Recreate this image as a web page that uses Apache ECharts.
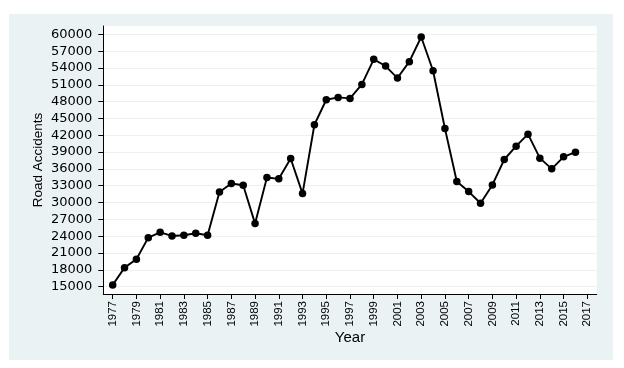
<!DOCTYPE html>
<html>
<head>
<meta charset="utf-8">
<script src="https://cdn.jsdelivr.net/npm/echarts@6/dist/echarts.min.js"></script>
<style>html,body{margin:0;padding:0;background:#fff}#c{width:624px;height:368px}</style>
</head>
<body>
<div id="c"></div>
<script>
var years = [1977,1978,1979,1980,1981,1982,1983,1984,1985,1986,1987,1988,1989,1990,1991,1992,1993,1994,1995,1996,1997,1998,1999,2000,2001,2002,2003,2004,2005,2006,2007,2008,2009,2010,2011,2012,2013,2014,2015,2016];
var accidents = [15300,18400,19900,23750,24700,24050,24170,24520,24170,31900,33390,33100,26250,34460,34230,37860,31600,43870,48330,48750,48570,51070,55540,54340,52200,55120,59520,53510,43210,33750,31960,29880,33150,37680,40060,42200,37920,36010,38150,38990];
var xTickYears = [1977,1979,1981,1983,1985,1987,1989,1991,1993,1995,1997,1999,2001,2003,2005,2007,2009,2011,2013,2015,2017];
var yTickValues = [15000,18000,21000,24000,27000,30000,33000,36000,39000,42000,45000,48000,51000,54000,57000,60000];

var chart = echarts.init(document.getElementById('c'), null, {renderer:'canvas'});
var pts = years.map(function(y,i){return [y, accidents[i]];});
chart.setOption({
  animation: false,
  backgroundColor: '#ffffff',
  graphic: [{
    type: 'rect', z: -10, silent: true,
    shape: {x: 9, y: 14, width: 604, height: 346},
    style: {fill: '#EAF2F3'}
  }],
  grid: {left: 103.3, top: 26, right: 27.3, bottom: 74, show: true, backgroundColor: '#ffffff', borderWidth: 0},
  xAxis: {
    type: 'value', min: 1976.21, max: 2017.79,
    name: 'Year', nameLocation: 'middle', nameGap: 36, nameMoveOverlap: false,
    nameTextStyle: {fontFamily: 'Liberation Sans', fontSize: 15, color: '#000'},
    axisLine: {show: true, lineStyle: {color: '#000', width: 1}},
    axisTick: {show: true, length: 5, customValues: xTickYears, lineStyle: {color: '#000'}},
    axisLabel: {customValues: xTickYears, rotate: 90, margin: 7, fontFamily: 'Liberation Sans', fontSize: 11.5, color: '#000', formatter: function(v){return String(v);}},
    splitLine: {show: false}
  },
  yAxis: {
    type: 'value', min: 13700, max: 61480,
    name: 'Road Accidents', nameLocation: 'middle', nameGap: 58, nameMoveOverlap: false,
    nameTextStyle: {fontFamily: 'Liberation Sans', fontSize: 13.5, color: '#000'},
    axisLine: {show: true, lineStyle: {color: '#000', width: 1}},
    axisTick: {show: true, length: 5, customValues: yTickValues, lineStyle: {color: '#000'}},
    axisLabel: {customValues: yTickValues, margin: 11, fontFamily: 'DejaVu Sans', fontSize: 13, color: '#000', formatter: function(v){return String(v);}},
    splitLine: {show: true, lineStyle: {color: '#EAF2F3', width: 1}}
  },
  series: [{
    type: 'line', data: pts,
    symbol: 'circle', symbolSize: 7.5,
    itemStyle: {color: '#000'},
    lineStyle: {color: '#000', width: 1.9}
  }]
});
</script>
</body>
</html>
